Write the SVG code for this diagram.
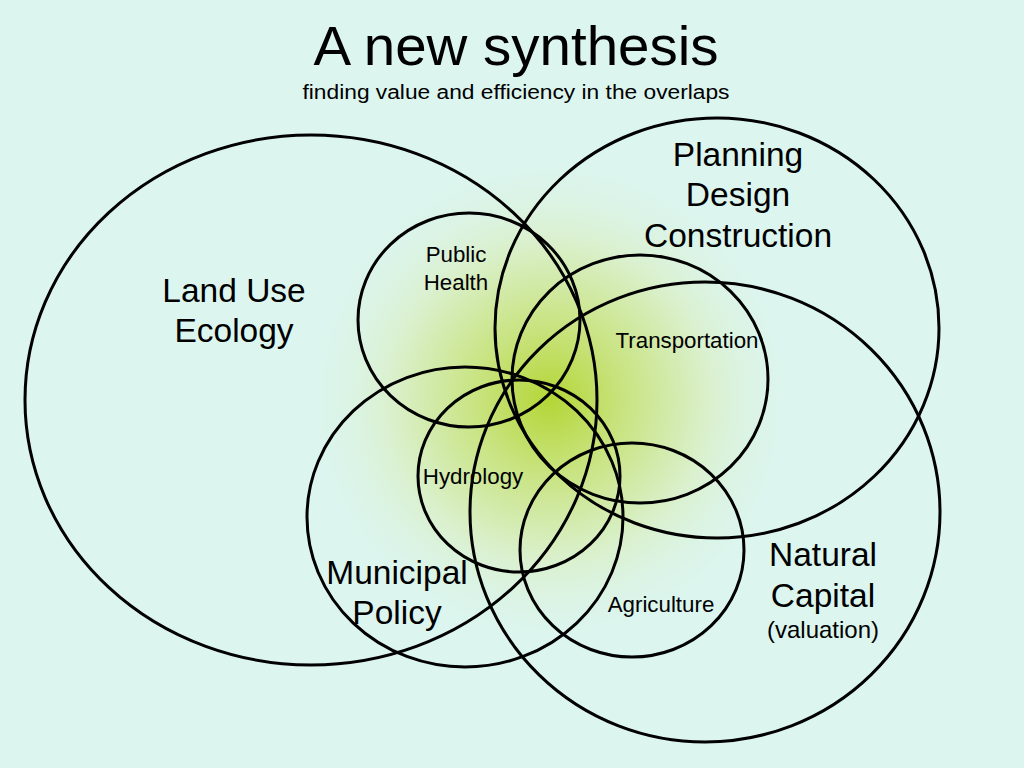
<svg xmlns="http://www.w3.org/2000/svg" width="1024" height="768" viewBox="0 0 1024 768">
<defs>
<radialGradient id="glow" cx="550" cy="400" r="255" gradientUnits="userSpaceOnUse">
<stop offset="0" stop-color="#b4d636"/>
<stop offset="0.28" stop-color="#c8e37e"/>
<stop offset="0.62" stop-color="#daf0cc"/>
<stop offset="1" stop-color="#dcf5ef" stop-opacity="0"/>
</radialGradient>
<style>
.c{fill:none;stroke:#000;stroke-width:3}
text{font-family:"Liberation Sans",Arial,sans-serif;fill:#000;text-anchor:middle}
.big{font-size:33.5px}
.sm{font-size:22.3px}
</style>
</defs>
<rect width="1024" height="768" fill="#dcf5ef"/>
<circle cx="550" cy="400" r="255" fill="url(#glow)"/>
<g id="title">
<text x="516" y="65" font-size="56" textLength="405" lengthAdjust="spacingAndGlyphs">A new synthesis</text>
<text x="516" y="99" font-size="20" textLength="427" lengthAdjust="spacingAndGlyphs">finding value and efficiency in the overlaps</text>
</g>
<g id="connectors"></g>
<g id="land-use-ecology">
<ellipse class="c" cx="311" cy="400" rx="286" ry="265"/>
<text class="big" x="234" y="302">Land Use</text>
<text class="big" x="234" y="342">Ecology</text>
</g>
<g id="planning">
<ellipse class="c" cx="717" cy="328" rx="222" ry="210"/>
<text class="big" x="738" y="166">Planning</text>
<text class="big" x="738" y="206">Design</text>
<text class="big" x="738" y="247">Construction</text>
</g>
<g id="public-health">
<ellipse class="c" cx="469" cy="320" rx="111" ry="107"/>
<text class="sm" x="456" y="262">Public</text>
<text class="sm" x="456" y="290">Health</text>
</g>
<g id="transportation">
<ellipse class="c" cx="640" cy="379" rx="128" ry="124"/>
<text class="sm" x="687" y="348">Transportation</text>
</g>
<g id="natural-capital">
<ellipse class="c" cx="705" cy="512" rx="235" ry="230"/>
<text class="big" x="823" y="566">Natural</text>
<text class="big" x="823" y="607">Capital</text>
<text x="823" y="638" font-size="24">(valuation)</text>
</g>
<g id="municipal-policy">
<ellipse class="c" cx="465" cy="517" rx="158" ry="150"/>
<text class="big" x="397" y="584">Municipal</text>
<text class="big" x="397" y="624">Policy</text>
</g>
<g id="hydrology">
<ellipse class="c" cx="519" cy="476" rx="101" ry="96"/>
<text class="sm" x="473" y="484">Hydrology</text>
</g>
<g id="agriculture">
<ellipse class="c" cx="632" cy="550" rx="112" ry="107"/>
<text class="sm" x="661" y="612">Agriculture</text>
</g>
</svg>
